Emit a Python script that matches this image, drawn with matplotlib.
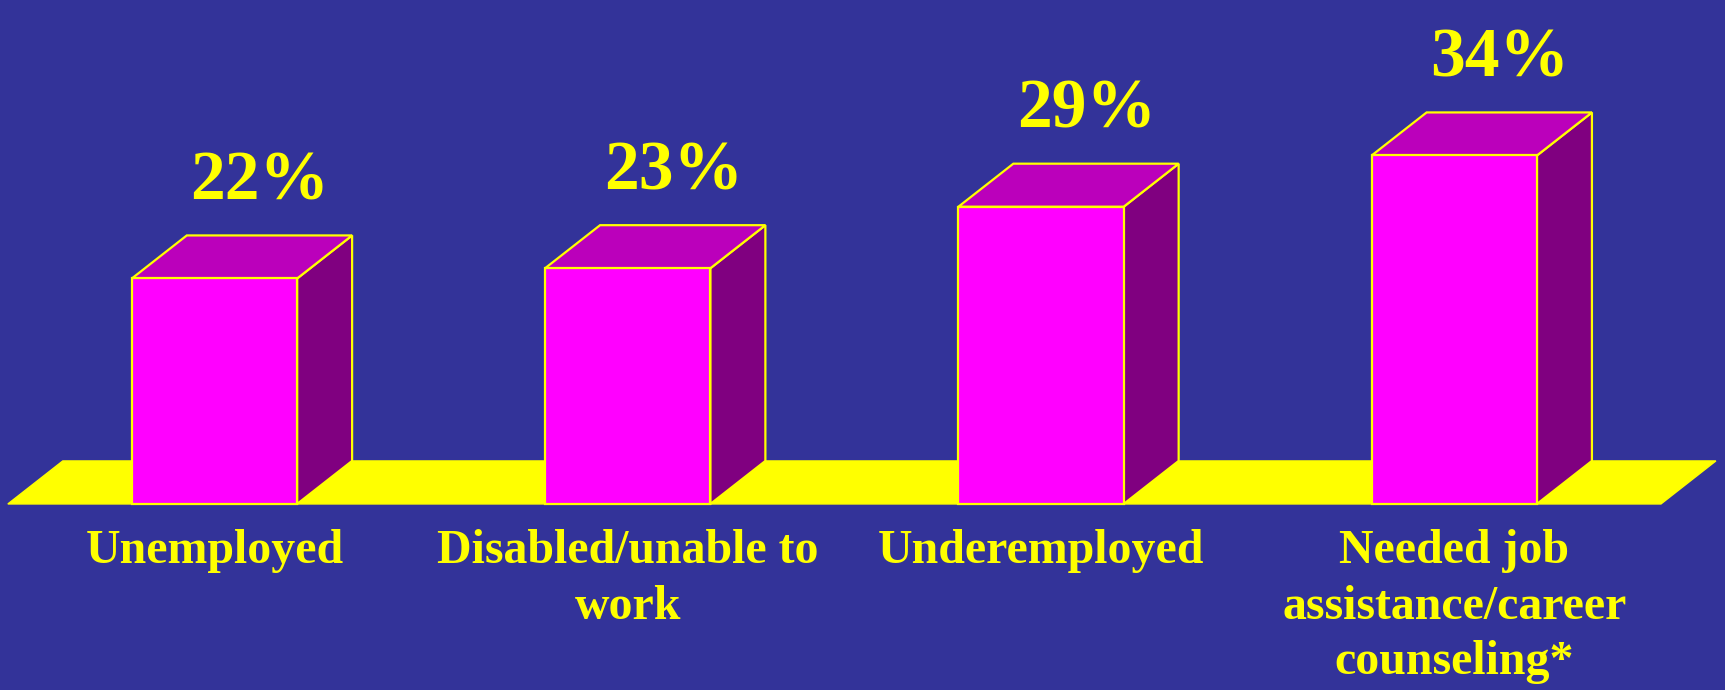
import matplotlib
matplotlib.use("Agg")
import matplotlib.pyplot as plt
from matplotlib.patches import Polygon

categories = ["Unemployed", "Disabled/unable to\nwork", "Underemployed",
              "Needed job\nassistance/career\ncounseling*"]
values = [22, 23, 29, 34]
value_labels = ["22%", "23%", "29%", "34%"]

BG = "#333399"
YELLOW = "#FFFF00"
FRONT = "#FF00FF"
TOP = "#BB00BB"
SIDE = "#800080"

fig = plt.figure(figsize=(17.25, 6.9), dpi=100, facecolor=BG)
ax = fig.add_axes([0, 0, 1, 1])
ax.set_facecolor(BG)
ax.set_xlim(-0.519, 3.655)
ax.set_ylim(-18.15, 49.17)
ax.axis("off")

width = 0.40
dx = 0.133
dy = 4.2
n = len(values)

# floor
floor = Polygon([(-0.5, 0), (n - 0.5, 0), (n - 0.5 + dx, dy), (-0.5 + dx, dy)],
                closed=True, facecolor=YELLOW, edgecolor=YELLOW, lw=1, zorder=1)
ax.add_patch(floor)

for i, v in enumerate(values):
    x0 = i - width / 2
    x1 = i + width / 2
    kw = dict(closed=True, edgecolor=YELLOW, lw=1.6, zorder=2, joinstyle="miter")
    side = Polygon([(x1, 0), (x1 + dx, dy), (x1 + dx, v + dy), (x1, v)], facecolor=SIDE, **kw)
    top = Polygon([(x0, v), (x1, v), (x1 + dx, v + dy), (x0 + dx, v + dy)], facecolor=TOP, **kw)
    front = Polygon([(x0, 0), (x1, 0), (x1, v), (x0, v)], facecolor=FRONT, **kw)
    for p in (side, top, front):
        ax.add_patch(p)
    ax.text(i + 0.11, v + 7.7, value_labels[i], ha="center", va="baseline",
            fontsize=50, fontweight="bold", family="Liberation Serif", color=YELLOW, zorder=3)
    ax.text(i, -2.45, categories[i], ha="center", va="top", linespacing=1.34,
            fontsize=34.5, fontweight="bold", family="Liberation Serif", color=YELLOW, zorder=3)

fig.savefig("out.png", dpi=100, facecolor=BG)
